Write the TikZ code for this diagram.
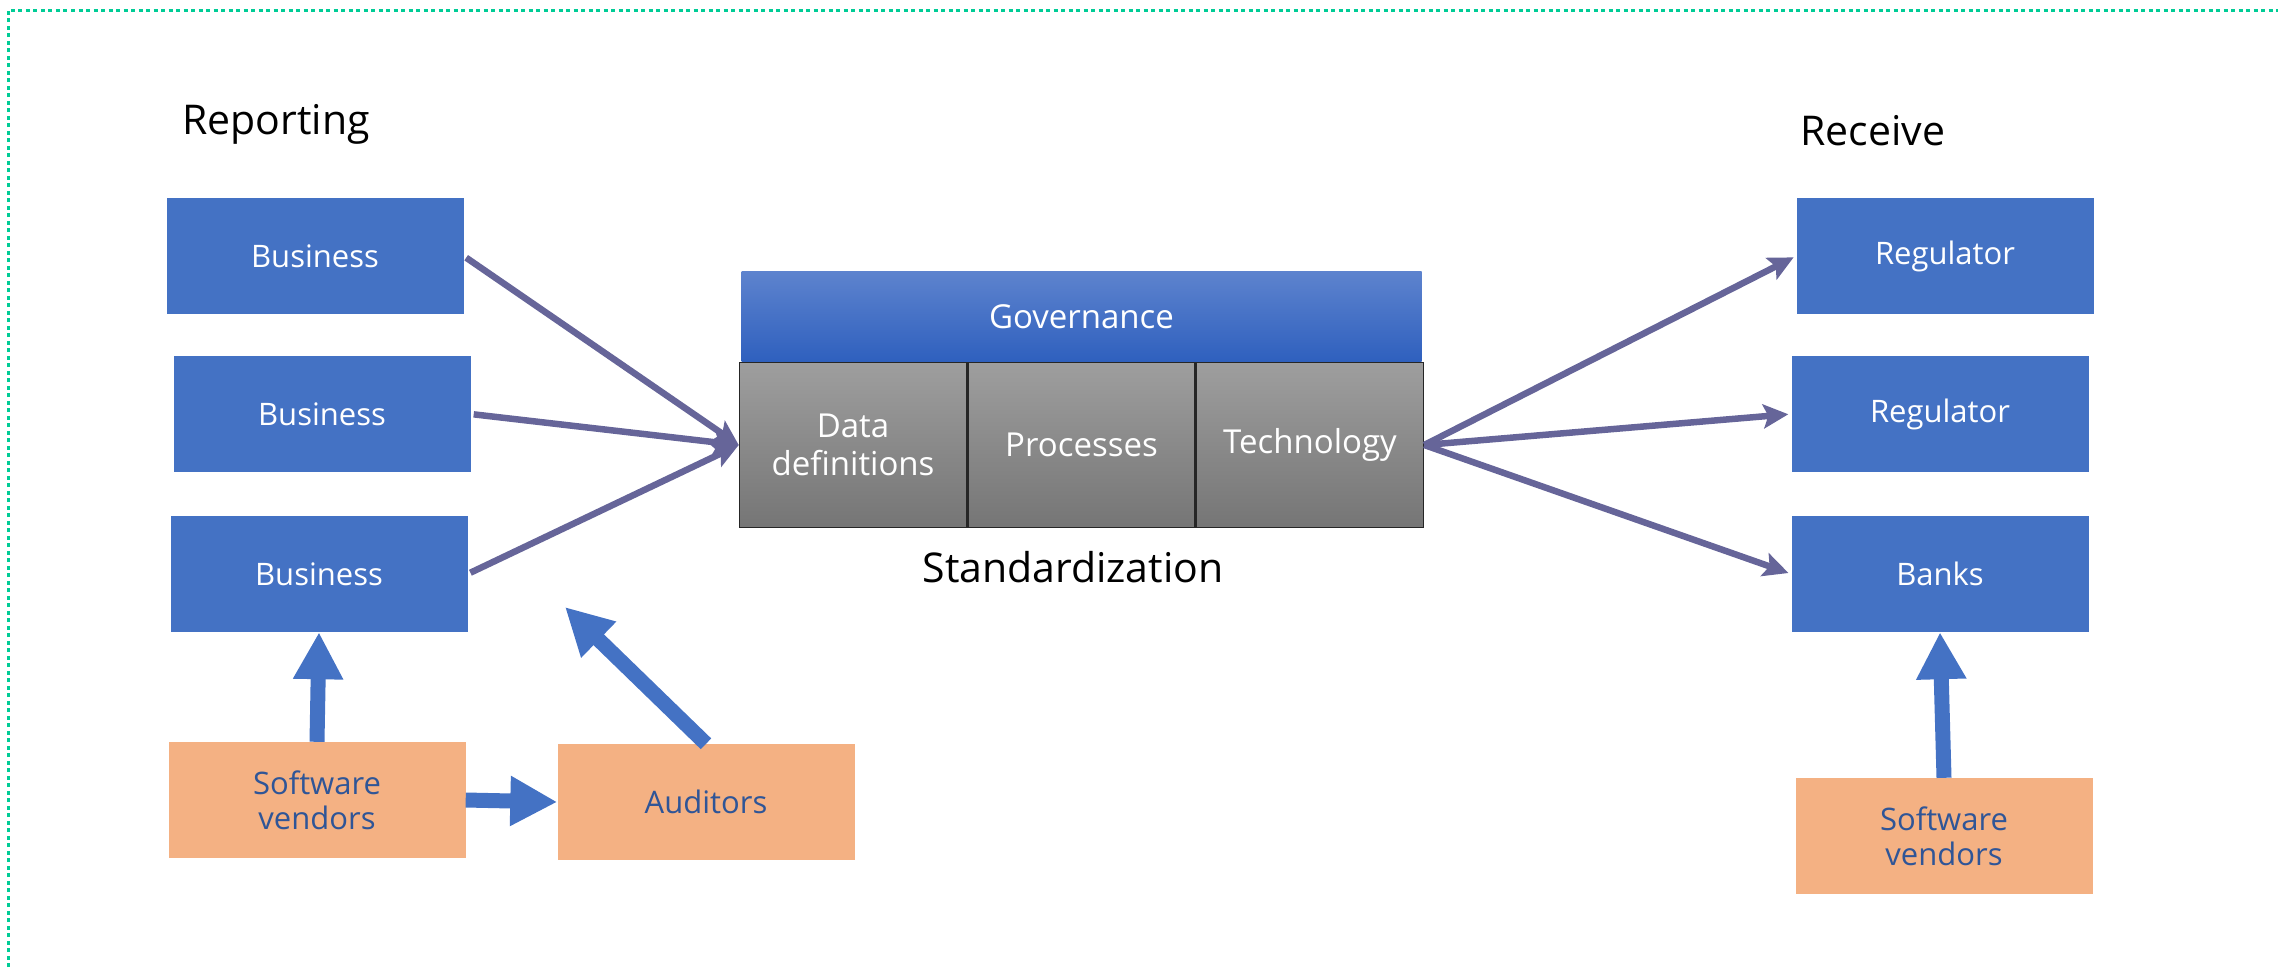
\documentclass[tikz,border=0pt]{standalone}
\usepackage{fontspec}
\setmainfont{Open Sans}
\usetikzlibrary{arrows.meta,positioning}
\definecolor{boxblue}{RGB}{68,114,196}
\definecolor{vendororange}{RGB}{244,177,131}
\definecolor{vendortext}{RGB}{47,85,151}
\definecolor{flowpurple}{RGB}{102,101,153}
\definecolor{framegreen}{RGB}{0,204,150}
\definecolor{govtop}{RGB}{93,131,206}
\definecolor{govbottom}{RGB}{47,96,190}
\begin{document}
\begin{tikzpicture}[x=1pt, y=-1pt,
  party/.style = {rectangle, fill=boxblue, text=white, inner sep=0pt,
    minimum width=297pt, minimum height=116pt, align=center,
    font=\fontsize{31}{35}\selectfont},
  vendor/.style = {party, fill=vendororange, text=vendortext},
  pillar/.style = {rectangle, draw=black!85, line width=1.5pt,
    top color=black!38, bottom color=black!54, text=white, inner sep=0pt,
    minimum width=227pt, minimum height=165pt, align=center,
    font=\fontsize{33}{38}\selectfont},
  heading/.style = {font=\fontsize{41}{47}\selectfont},
  feed/.style = {draw=flowpurple, line width=6.5pt,
    -{Stealth[length=25pt,width=24pt,inset=5pt]}},
  push/.style = {draw=boxblue, line width=15pt,
    -{Triangle[length=47pt,width=47pt]}}]
\useasboundingbox (0,0) rectangle (2278,967);
\draw [framegreen, line width=3pt, dash pattern=on 4pt off 3.5pt]
  (8,967) -- (8,10) -- (2278,10);

% reporting side
\node[heading] (reporting) at (276,124) {Reporting};
\node[party] (biz1) at (315,256) {Business};
\node[party] (biz2) at (322,414) {Business};
\node[party] (biz3) at (319,574) {Business};
\node[vendor] (vendorL) at (317,800) {Software\\vendors};
\node[vendor] (auditors) at (706,802) {Auditors};

% standardization block
\node[pillar] (data) at (853,445) {Data\\definitions};
\node[pillar, right=0pt of data] (proc) {Processes};
\node[pillar, right=0pt of proc] (tech) {Technology};
\node[rectangle, top color=govtop, bottom color=govbottom, text=white,
  inner sep=0pt, minimum width=680pt, minimum height=90pt,
  font=\fontsize{33}{38}\selectfont, above=0pt of proc] (gov) {Governance};
\node[heading] (std) at (1073,567) {Standardization};

% receiving side
\node[heading] (receive) at (1873,131) {Receive};
\node[party] (reg1) at (1945,256) {Regulator};
\node[party] (reg2) at (1940,414) {Regulator};
\node[party] (banks) at (1940,574) {Banks};
\node[vendor] (vendorR) at (1944,836) {Software\\vendors};

\foreach \src in {biz1,biz2,biz3}
  \draw [feed, shorten <=3pt] (\src.east) -- (data.west);
\foreach \dst in {reg1,reg2,banks}
  \draw [feed, shorten >=3pt] (tech.east) -- (\dst.west);

\coordinate (audtip) at (565,607);
\draw [push] (vendorL.north) -- (biz3.south);
\draw [push] (vendorL.east) -- (auditors.west);
\draw [push] (auditors.north) -- (audtip);
\draw [push] (vendorR.north) -- (banks.south);
\end{tikzpicture}
\end{document}
